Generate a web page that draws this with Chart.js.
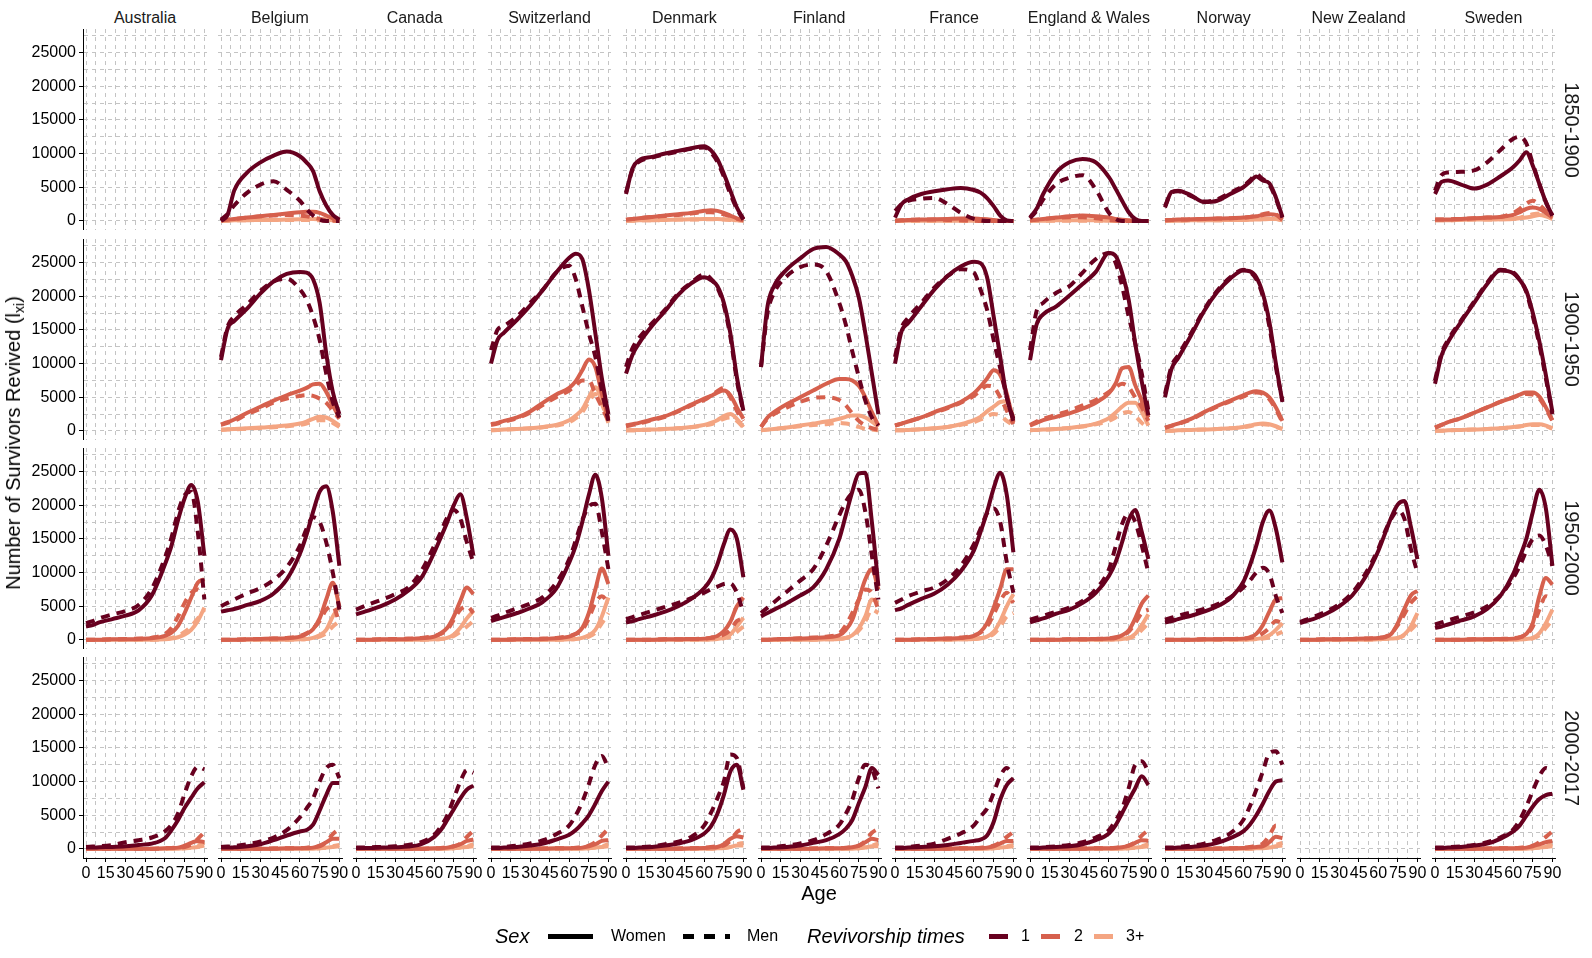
<!DOCTYPE html>
<html><head><meta charset="utf-8">
<script src="https://cdn.jsdelivr.net/npm/chart.js@4.4.1/dist/chart.umd.min.js"></script>
<style>
html,body{margin:0;padding:0;background:#fff;}
#root{position:relative;width:1592px;height:958px;overflow:hidden;font-family:"Liberation Sans",Arial,sans-serif;color:#000;}
.pan{position:absolute;}
.pan canvas{display:block;}
.txt{position:absolute;white-space:nowrap;line-height:1;}
.strip{font-size:16px;color:#1a1a1a;transform:translate(-50%,-50%);}
.rowlab{font-size:20px;color:#1a1a1a;transform:translate(-50%,-50%) rotate(90deg);}
.key{position:absolute;height:5px;}
</style></head>
<body><div id="root"></div>
<script>
// ---------------- data ----------------
const AGES = [0,5,10,20,30,40,50,60,65,70,75,80,85,90];
const COUNTRIES = ['Australia','Belgium','Canada','Switzerland','Denmark','Finland','France','England & Wales','Norway','New Zealand','Sweden'];
const PERIODS = ['1850-1900','1900-1950','1950-2000','2000-2017'];
const Y_TICKS = [0,2500,5000,7500,10000,12500,15000,17500,20000,22500,25000,27500];
const Y_LABELS = [0,5000,10000,15000,20000,25000];
const X_TICKS = [0,7.5,15,22.5,30,37.5,45,52.5,60,67.5,75,82.5,90];
const X_LABELS = [0,15,30,45,60,75,90];
const SEX_LABELS = ['Women','Men'];
const TIMES_LABELS = ['1','2','3+'];
// each panel: [W1, W2, W3, M1, M2, M3] over AGES
const BE_1850 = [
 [0,900,4500,7200,8700,9700,10300,9600,8700,7400,4400,2300,900,200],
 [100,200,300,500,700,900,1100,1300,1350,1350,1200,800,400,100],
 [50,50,100,100,150,150,200,250,300,300,250,200,100,50],
 [200,1000,2300,4200,5400,5900,4600,3000,1800,800,200,0,0,0],
 [100,200,300,500,700,800,900,800,700,500,300,150,50,0],
 [50,50,100,100,150,150,150,150,150,100,100,50,0,0]];
const DK_1850 = [
 [4000,7800,9000,9500,10000,10400,10800,11100,10500,9200,7000,4500,2000,300],
 [200,300,400,600,800,1000,1200,1500,1600,1500,1200,800,400,100],
 [50,50,100,100,150,200,250,300,300,300,250,200,100,50],
 [4200,7600,8800,9400,9900,10300,10700,10900,10200,8800,6600,4000,1800,200],
 [200,300,400,600,750,900,1100,1300,1300,1200,1000,700,300,100],
 [50,50,100,100,150,200,200,250,250,250,200,150,100,50]];
const FR_1850 = [
 [500,2500,3200,4000,4400,4700,4900,4600,4200,3400,2200,800,100,0],
 [50,100,150,200,250,300,350,350,300,250,150,50,0,0],
 [0,0,50,50,50,50,50,50,50,50,0,0,0,0],
 [1500,2500,3000,3300,3400,2500,1200,300,100,0,0,0,0,0],
 [50,100,150,200,200,150,100,50,0,0,0,0,0,0],
 [0,0,0,0,0,0,0,0,0,0,0,0,0,0]];
const EW_1850 = [
 [500,1800,4000,7200,8700,9200,8700,6500,4800,3000,1300,300,0,0],
 [100,200,300,500,700,800,700,500,300,200,100,0,0,0],
 [0,50,50,100,100,100,100,50,50,0,0,0,0,0],
 [400,1500,3200,5500,6400,6800,4700,1200,300,0,0,0,0,0],
 [100,200,300,450,550,550,400,150,50,0,0,0,0,0],
 [0,50,50,50,50,50,50,0,0,0,0,0,0,0]];
const NO_1850 = [
 [2000,4300,4500,3800,2800,3000,4000,5000,5800,6600,6000,5600,3500,600],
 [100,150,200,250,300,350,400,500,600,700,900,1000,900,200],
 [50,50,50,100,100,100,150,150,200,200,250,300,300,100],
 [2200,4200,4400,3700,2900,3200,4200,5200,6000,6900,6200,5400,3300,500],
 [100,150,200,250,300,350,400,500,600,800,1000,1200,1000,200],
 [50,50,50,100,100,100,150,150,200,250,300,350,300,100]];
const SE_1850 = [
 [4000,5800,6000,5400,4800,5400,6600,8000,9000,10200,8200,5500,2800,800],
 [200,200,200,300,400,500,600,900,1300,1800,2000,1800,1200,500],
 [100,100,100,150,200,200,250,300,400,500,700,900,700,300],
 [4500,6800,7200,7300,7500,8700,10500,12200,12500,11500,8500,5500,2800,800],
 [200,200,250,300,400,500,600,1200,1800,2600,3000,2400,1500,600],
 [100,100,100,150,200,200,250,350,500,700,1000,1100,800,300]];
const BE_1900 = [
 [10500,15200,16300,18200,20400,22200,23300,23600,23500,22500,19000,11500,5800,2500],
 [1000,1300,1700,2700,3600,4500,5300,6000,6400,6900,7000,5800,3800,2000],
 [200,250,300,400,500,650,800,1100,1400,1800,2100,2000,1500,800],
 [11000,15500,17000,18800,20800,22200,22600,21000,19500,17000,13500,8500,4300,2000],
 [900,1200,1500,2500,3300,4200,4800,5200,5300,5200,4800,4200,3000,1800],
 [150,200,250,350,450,550,700,900,1100,1400,1600,1600,1200,600]];
const CH_1900 = [
 [10000,13500,14600,16500,18600,21000,23500,25700,26300,25500,21000,14500,7800,2500],
 [1000,1200,1500,2000,2900,4200,5400,6400,7400,9000,10600,9500,5500,1800],
 [100,150,200,300,400,600,900,1600,2300,3200,5000,6500,4500,1300],
 [12000,15000,15600,17000,19000,21000,23500,24500,22500,18500,14500,11000,6000,1500],
 [900,1100,1400,1900,2700,3900,5000,6000,6800,7500,7500,5500,3500,1500],
 [100,150,200,300,400,550,800,1300,1900,2800,4300,5500,4000,1200]];
const DK_1900 = [
 [8500,11300,13000,15600,17800,20200,21900,22800,22400,21500,19000,14500,8000,3000],
 [800,1000,1200,1700,2200,3000,3900,4800,5200,5700,6000,5300,3500,1800],
 [100,100,150,200,300,400,600,900,1200,1600,2200,2500,1800,600],
 [9500,12300,13800,16000,18000,20400,22000,23200,22600,21300,18600,14000,7500,2800],
 [700,900,1100,1600,2100,2900,3800,4600,5200,5900,6400,5000,3000,1500],
 [100,100,150,200,300,400,550,800,1000,1400,1800,2000,1500,500]];
const FI_1900 = [
 [9500,18500,21500,24000,25600,27000,27300,26200,25200,23000,19800,14500,8500,2500],
 [600,2000,2800,4000,5000,6000,7000,7700,7700,7500,6700,5000,2800,800],
 [100,200,300,500,800,1100,1400,1800,2100,2300,2300,2000,1400,600],
 [9500,17500,20500,23000,24300,24700,23700,19000,15800,11800,8000,4500,2000,800],
 [600,1800,2500,3500,4300,4900,5000,4600,3800,2600,1500,800,400,200],
 [100,200,300,500,700,900,1000,1200,1100,900,600,300,200,100]];
const FR_1900 = [
 [10000,14800,16000,18500,21000,23000,24400,25100,24900,22800,17000,11000,5000,1500],
 [800,1100,1400,2000,2800,3500,4300,5600,6600,7800,9000,8300,5500,1300],
 [100,100,150,250,400,600,1000,1600,2100,2900,3600,4300,4400,2000],
 [11000,15300,16800,19000,21300,23000,24000,23500,21000,18000,13500,9300,5000,1800],
 [800,1100,1400,2000,2700,3400,4200,5200,6000,6700,6500,5000,3000,1000],
 [100,100,150,250,400,600,900,1300,1700,2200,2500,2300,1500,800]];
const EW_1900 = [
 [10500,15800,17300,18500,20100,21800,23600,26400,26000,23500,19500,13000,7300,2300],
 [800,1200,1600,2100,2600,3300,4200,5600,7000,9300,9500,6800,4500,2000],
 [100,150,200,300,450,700,1100,1900,2700,3600,4200,4200,2800,800],
 [12000,17800,19000,20500,21500,23500,25500,26400,25000,21500,17000,13000,8500,3000],
 [900,1400,1800,2400,3000,3800,4600,5800,6500,7000,6500,5000,3500,1500],
 [100,150,200,300,450,650,1000,1500,2000,2600,2800,2200,1200,400]];
const NO_1900 = [
 [5000,9200,10800,14200,17800,20600,22600,23800,23700,22800,20400,16200,10000,4300],
 [500,800,1100,1800,2800,3700,4500,5300,5700,5900,5700,5000,3500,1500],
 [50,50,100,150,200,300,400,600,800,1000,1100,1000,700,300],
 [5500,9600,11200,14500,18000,20800,22800,23900,23600,22500,20000,15500,9500,4500],
 [450,750,1050,1700,2700,3600,4400,5100,5500,5700,5500,4700,3200,1300],
 [50,50,100,150,200,300,400,550,700,900,1000,900,600,300]];
const SE_1900 = [
 [7000,11200,13200,16200,19000,21800,23800,23400,22400,20800,17500,13300,8300,2800],
 [500,900,1300,1900,2700,3500,4300,5000,5400,5700,5700,5100,3500,1600],
 [50,50,100,150,200,300,400,600,700,900,1000,1000,800,400],
 [7500,11500,13500,16400,19200,22000,23900,23500,22400,20600,17000,12800,7800,2500],
 [500,900,1300,1900,2700,3500,4300,5000,5300,5500,5400,4800,3300,1500],
 [50,50,100,150,200,300,400,550,650,800,900,900,700,350]];
const AU_1950 = [
 [2000,2200,2600,3100,3600,4400,6600,11200,14000,17800,21000,23000,20500,12500],
 [50,50,50,100,100,150,250,600,1100,2100,4000,6300,8500,9000],
 [0,0,0,50,50,50,50,100,200,400,800,1500,2800,4800],
 [2500,2800,3200,3800,4300,5200,7600,12200,15200,19000,21500,22000,16000,6000],
 [50,50,50,100,150,200,350,900,1800,3500,5500,7000,7500,6500],
 [0,0,0,50,50,50,50,150,300,600,1200,2000,3200,4500]];
const BE_1950 = [
 [4200,4400,4600,5200,5800,6900,9000,12800,15600,19000,22000,22800,19000,11000],
 [50,50,50,100,150,200,250,500,900,1600,3200,6000,8500,5000],
 [0,0,0,50,50,50,50,100,150,300,700,1500,3500,5000],
 [5000,5500,6000,6900,7700,8900,10800,14000,16500,18200,17500,14500,10000,4500],
 [50,50,50,100,150,200,300,600,1000,1700,2800,4500,5000,2500],
 [0,0,0,50,50,50,50,100,150,250,500,1000,2000,2800]];
const CA_1950 = [
 [3800,4100,4400,5100,6000,7300,9200,13000,15200,17500,20000,21600,18000,12500],
 [50,50,50,100,100,150,250,500,1000,1800,3500,5800,7800,6800],
 [0,0,0,50,50,50,50,100,150,300,800,1800,3200,4300],
 [4500,4900,5300,6000,6800,7800,10200,14000,16000,18200,19300,18000,14500,11500],
 [50,50,50,100,150,200,300,600,900,1500,3000,4500,5000,4000],
 [0,0,0,50,50,50,50,100,150,250,600,1200,2000,2800]];
const CH_1950 = [
 [2800,3100,3400,4000,4700,5700,7600,11500,14000,17500,21500,24500,21000,12500],
 [50,50,50,100,100,150,250,500,900,1800,4000,7500,10600,8300],
 [0,0,0,50,50,50,50,100,150,300,700,1500,3500,6300],
 [3300,3600,4000,4700,5400,6400,8500,12000,14800,17800,19800,20200,16000,10500],
 [50,50,50,100,150,200,300,600,900,1500,3200,5500,6500,5500],
 [0,0,0,50,50,50,50,100,150,250,500,1100,2500,4000]];
const DK_1950 = [
 [2600,2800,3100,3600,4200,5000,6100,7700,9000,11200,14200,16400,15000,9300],
 [50,50,50,50,100,100,150,200,350,600,1300,2700,5000,6300],
 [0,0,0,0,50,50,50,50,100,150,300,800,2000,3300],
 [3100,3400,3700,4300,4900,5500,6200,7000,7500,7900,8300,8400,7000,4000],
 [50,50,50,50,100,100,150,200,300,450,800,1500,2800,3200],
 [0,0,0,0,50,50,50,50,100,150,250,500,1200,2000]];
const FI_1950 = [
 [3500,4000,4500,5500,6600,7800,10500,15000,18500,22000,24700,24800,17500,8000],
 [50,50,100,150,200,300,400,700,1500,3000,6000,9000,10500,7500],
 [0,0,0,50,50,50,100,150,300,700,1700,3500,6000,5500],
 [4000,4800,5600,7200,8800,10500,14000,18500,20500,21800,22300,19000,12500,6000],
 [50,50,100,150,250,350,500,1000,2200,4000,6000,7500,7000,4500],
 [0,0,0,50,50,50,100,150,300,600,1400,2800,4500,4000]];
const FR_1950 = [
 [4400,4700,5200,6100,6900,8200,10200,13300,16000,19000,22500,24800,21500,13000],
 [50,50,50,100,150,200,300,600,1200,2500,4800,7600,10500,10500],
 [0,0,0,50,50,50,100,150,250,500,1200,2800,5000,6800],
 [5500,6000,6500,7200,7800,9000,11000,14200,16500,18800,19500,17500,11500,7000],
 [50,50,50,100,150,200,350,700,1100,2000,3800,5800,7000,5500],
 [0,0,0,50,50,50,100,150,250,450,900,2000,3500,4000]];
const EW_1950 = [
 [2600,2900,3200,3900,4500,5500,7000,9500,11500,14500,17800,19300,16000,12000],
 [50,50,50,50,100,100,150,200,300,700,1400,3200,5400,6600],
 [0,0,0,0,50,50,50,50,100,150,300,900,2200,3800],
 [3000,3300,3600,4200,4800,5800,7500,10500,13800,17200,18800,17500,14000,10000],
 [50,50,50,50,100,100,150,250,400,700,1200,2500,4000,4500],
 [0,0,0,0,50,50,50,50,100,150,250,600,1500,2500]];
const NO_1950 = [
 [2600,2800,3100,3600,4200,5000,6200,8600,11000,14000,17500,19200,16500,11500],
 [50,50,50,50,100,100,150,200,400,900,2200,4200,6000,6200],
 [0,0,0,0,50,50,50,50,100,150,300,700,1500,2500],
 [3000,3300,3600,4100,4600,5300,6300,7800,8800,10000,10700,9800,6500,4000],
 [50,50,50,50,100,100,150,200,300,500,1000,1800,2800,2500],
 [0,0,0,0,50,50,50,50,100,100,200,400,800,1200]];
const NZ_1950 = [
 [2500,2800,3100,3900,5000,6600,9300,13200,15700,18200,20100,20600,16800,12000],
 [50,50,50,100,100,150,200,300,400,900,2500,4600,6600,7300],
 [0,0,0,50,50,50,50,100,150,200,300,800,2000,4000],
 [2700,3000,3400,4200,5300,7000,9800,13500,16000,18000,19200,18000,13500,10000],
 [50,50,50,100,100,150,200,300,450,1000,2200,3800,5500,6500],
 [0,0,0,50,50,50,50,100,150,200,300,700,1500,2500]];
const SE_1950 = [
 [1800,2000,2300,2900,3500,4600,6500,9800,12300,15000,19000,22300,19500,11000],
 [50,50,50,50,100,100,150,200,400,900,2500,6500,9200,8200],
 [0,0,0,0,50,50,50,50,100,150,300,1000,2500,4500],
 [2300,2600,2900,3500,4100,5000,6600,9200,11000,13200,15000,15500,14000,11000],
 [50,50,50,50,100,100,150,250,400,800,2000,4500,6500,6000],
 [0,0,0,0,50,50,50,50,100,150,250,700,1800,3000]];
const AU_2000 = [
 [200,200,250,300,400,600,800,1600,2800,4300,6100,7600,9000,9900],
 [50,50,50,50,50,50,50,100,150,200,500,900,1200,1000],
 [0,0,0,0,0,0,0,50,50,50,100,200,300,500],
 [300,350,400,600,1000,1300,1700,2600,3600,5300,8200,10800,12200,11800],
 [50,50,50,50,50,50,50,100,150,200,300,700,1500,2500],
 [0,0,0,0,0,0,0,50,50,50,100,200,500,1000]];
const BE_2000 = [
 [200,200,250,400,700,1300,2000,2600,2800,3600,5700,8000,9800,9800],
 [50,50,50,50,50,50,100,100,150,200,500,1000,1500,1500],
 [0,0,0,0,0,0,50,50,50,50,100,200,300,400],
 [300,350,450,700,1100,1700,2800,4700,6000,7500,10000,12000,12500,10500],
 [50,50,50,50,50,100,100,150,200,300,400,1000,2200,3000],
 [0,0,0,0,0,0,50,50,50,50,100,200,400,600]];
const CA_2000 = [
 [150,150,150,200,250,350,700,1800,2800,4300,5900,7500,8800,9400],
 [50,50,50,50,50,50,50,100,100,200,400,700,1200,1400],
 [0,0,0,0,0,0,0,50,50,50,100,200,300,400],
 [200,200,250,300,400,600,1000,2100,3300,5000,7500,10000,11700,11300],
 [50,50,50,50,50,50,50,100,150,250,400,800,1800,2700],
 [0,0,0,0,0,0,0,50,50,50,100,200,400,700]];
const CH_2000 = [
 [150,150,200,300,500,800,1400,2100,2800,3800,5000,6700,8600,10000],
 [50,50,50,50,50,50,100,100,150,200,400,700,1200,1300],
 [0,0,0,0,0,0,50,50,50,50,100,200,300,400],
 [200,200,300,500,800,1300,2200,3500,5000,7000,9600,12500,13800,12000],
 [50,50,50,50,50,100,100,150,200,300,500,1000,2000,3000],
 [0,0,0,0,0,0,50,50,50,50,100,200,400,700]];
const DK_2000 = [
 [150,150,200,300,500,800,1300,2300,3300,5200,8000,11500,12500,8800],
 [50,50,50,50,50,50,100,150,200,300,700,1500,1900,1700],
 [0,0,0,0,0,0,50,50,50,100,150,300,500,500],
 [200,200,250,400,700,1100,1800,3500,5300,7500,10000,14000,13500,9000],
 [50,50,50,50,50,100,100,200,300,400,500,1200,2500,3000],
 [0,0,0,0,0,0,50,50,50,100,150,300,700,900]];
const FI_2000 = [
 [150,150,200,300,500,900,1300,2200,3000,4300,6800,9200,12000,11000],
 [50,50,50,50,50,50,100,100,150,250,500,1000,1500,1300],
 [0,0,0,0,0,0,50,50,50,50,100,200,400,400],
 [200,200,300,500,800,1300,2200,3600,5200,7300,10500,12500,11800,9000],
 [50,50,50,50,50,100,100,150,200,300,500,1200,2400,3000],
 [0,0,0,0,0,0,50,50,50,50,100,300,500,800]];
const FR_2000 = [
 [150,150,200,300,400,600,900,1200,1400,2000,4000,7300,9500,10500],
 [50,50,50,50,50,50,100,100,150,200,400,800,1200,1200],
 [0,0,0,0,0,0,50,50,50,50,100,200,300,400],
 [200,200,300,500,800,1500,2300,3500,4800,6000,8300,10800,12000,11000],
 [50,50,50,50,50,100,100,150,200,300,500,1000,1800,2500],
 [0,0,0,0,0,0,50,50,50,50,100,200,400,600]];
const EW_2000 = [
 [150,150,200,300,400,700,1300,2300,3500,5300,7200,9000,10800,9500],
 [50,50,50,50,50,50,100,100,150,250,500,900,1300,1200],
 [0,0,0,0,0,0,50,50,50,50,100,200,300,400],
 [200,200,250,400,600,1000,1700,2800,4200,6000,9000,12500,13000,11500],
 [50,50,50,50,50,100,100,150,200,300,500,1000,2000,2800],
 [0,0,0,0,0,0,50,50,50,50,100,200,400,700]];
const NO_2000 = [
 [150,150,200,300,500,900,1600,2600,3600,5000,6700,8600,10000,10200],
 [50,50,50,50,50,50,100,150,200,300,400,1000,1800,1600],
 [0,0,0,0,0,0,50,50,50,100,100,200,400,500],
 [200,200,300,500,800,1400,2300,4300,6300,8800,11500,14200,14500,12500],
 [50,50,50,50,50,100,100,200,300,500,800,2000,3500,3500],
 [0,0,0,0,0,0,50,50,50,100,150,300,600,900]];
const SE_2000 = [
 [150,150,200,300,500,800,1500,2600,3500,4900,6300,7400,8000,8200],
 [50,50,50,50,50,50,100,100,150,200,400,700,1000,1200],
 [0,0,0,0,0,0,50,50,50,50,100,200,300,400],
 [200,200,250,400,600,1000,1700,2900,4300,6300,8600,10800,12000,11500],
 [50,50,50,50,50,100,100,150,200,300,500,1000,1800,2600],
 [0,0,0,0,0,0,50,50,50,50,100,200,400,700]];

// [country index, period index, panel data]
const ENTRIES = [
 [1,0,BE_1850],[4,0,DK_1850],[6,0,FR_1850],[7,0,EW_1850],[8,0,NO_1850],[10,0,SE_1850],
 [1,1,BE_1900],[3,1,CH_1900],[4,1,DK_1900],[5,1,FI_1900],[6,1,FR_1900],[7,1,EW_1900],[8,1,NO_1900],[10,1,SE_1900],
 [0,2,AU_1950],[1,2,BE_1950],[2,2,CA_1950],[3,2,CH_1950],[4,2,DK_1950],[5,2,FI_1950],[6,2,FR_1950],[7,2,EW_1950],[8,2,NO_1950],[9,2,NZ_1950],[10,2,SE_1950],
 [0,3,AU_2000],[1,3,BE_2000],[2,3,CA_2000],[3,3,CH_2000],[4,3,DK_2000],[5,3,FI_2000],[6,3,FR_2000],[7,3,EW_2000],[8,3,NO_2000],[10,3,SE_2000]
];

// ---------------- styling / layout ----------------
const COLORS = ['#67001F','#D6604D','#F4A582'];
const GRID = '#c4c4c4';
const FONT = 'Liberation Sans';
const X_MIN = -2.3, X_MAX = 92.0;
const Y_MIN = -1340, Y_MAX = 28480;
const PX0 = 83.3, PITCH_X = 134.84, PW = 123.4;
const PY0 = 29.3, PITCH_Y = 209.3, PH = 201;
const PAD = 7;

Chart.defaults.font.family = FONT;
Chart.defaults.color = '#000';

const root = document.getElementById('root');
function addText(cls, txt, x, y, extra) {
  const d = document.createElement('div');
  d.className = 'txt ' + cls;
  d.textContent = txt;
  d.style.left = x + 'px'; d.style.top = y + 'px';
  if (extra) Object.assign(d.style, extra);
  root.appendChild(d);
  return d;
}

function makePanel(r, c, panel) {
  const L = Math.round(PX0 + c * PITCH_X);
  const R = Math.round(PX0 + c * PITCH_X + PW);
  const T = Math.round(PY0 + r * PITCH_Y);
  const B = Math.round(PY0 + r * PITCH_Y + PH);
  const first = c === 0, bottom = r === 3;
  const divL = first ? 0 : L - PAD;
  const xH = bottom ? 32 : 0;
  const d = document.createElement('div');
  d.className = 'pan';
  d.style.left = divL + 'px';
  d.style.top = T + 'px';
  d.style.width = (R + PAD - divL) + 'px';
  d.style.height = (B - T + xH) + 'px';
  const cv = document.createElement('canvas');
  d.appendChild(cv);
  root.appendChild(d);

  const datasets = [];
  if (panel) {
    // draw order: revivorship 1 on top
    const order = [[0,0],[3,0],[1,1],[4,1],[2,2],[5,2]];
    order.forEach(([idx, col]) => {
      const men = idx >= 3;
      datasets.push({
        label: SEX_LABELS[men ? 1 : 0] + ' ' + TIMES_LABELS[col],
        data: AGES.map((a, i) => ({x: a, y: panel[idx][i]})),
        borderColor: COLORS[col],
        backgroundColor: COLORS[col],
        borderWidth: 4,
        borderDash: men ? [9, 7] : [],
        borderCapStyle: 'butt',
        borderJoinStyle: 'round',
        pointRadius: 0,
        cubicInterpolationMode: 'monotone',
        fill: false
      });
    });
  }

  new Chart(cv, {
    type: 'line',
    data: {datasets},
    options: {
      responsive: true, maintainAspectRatio: false, animation: false,
      devicePixelRatio: 1, events: [],
      layout: {padding: {left: first ? 0 : PAD, right: PAD, top: 0, bottom: 0}},
      plugins: {legend: {display: false}, tooltip: {enabled: false}, title: {display: false}},
      scales: {
        x: {
          type: 'linear', min: X_MIN, max: X_MAX, bounds: 'data', position: 'bottom',
          afterBuildTicks: s => { s.ticks = X_TICKS.map(v => ({value: v})); },
          afterFit: s => { s.height = xH; s.paddingLeft = 0; s.paddingRight = 0; },
          ticks: {display: bottom, autoSkip: false, maxRotation: 0, minRotation: 0, padding: 2,
                  color: '#000', font: {family: FONT, size: 16},
                  callback: v => X_LABELS.includes(v) ? String(v) : ''},
          grid: {display: true, color: GRID, lineWidth: 1, drawTicks: bottom, tickLength: 4,
                 tickWidth: 1, tickBorderDash: [],
                 tickColor: ctx => (ctx.tick && X_LABELS.includes(ctx.tick.value)) ? '#000' : 'rgba(0,0,0,0)'},
          border: {display: bottom, color: '#000', width: 1, dash: [4, 4]}
        },
        y: {
          type: 'linear', min: Y_MIN, max: Y_MAX, bounds: 'data', position: 'left',
          afterBuildTicks: s => { s.ticks = Y_TICKS.map(v => ({value: v})); },
          afterFit: s => { s.width = first ? L : 0; s.paddingTop = 0; s.paddingBottom = 0; },
          ticks: {display: first, autoSkip: false, padding: 3, color: '#000', font: {family: FONT, size: 16},
                  callback: v => Y_LABELS.includes(v) ? String(v) : ''},
          grid: {display: true, color: GRID, lineWidth: 1, drawTicks: first, tickLength: 4,
                 tickWidth: 1, tickBorderDash: [],
                 tickColor: ctx => (ctx.tick && Y_LABELS.includes(ctx.tick.value)) ? '#000' : 'rgba(0,0,0,0)'},
          border: {display: first, color: '#000', width: 1, dash: [4, 4]}
        }
      }
    }
  });
}

for (let r = 0; r < PERIODS.length; r++) {
  for (let c = 0; c < COUNTRIES.length; c++) {
    const e = ENTRIES.find(en => en[0] === c && en[1] === r);
    makePanel(r, c, e ? e[2] : null);
  }
}

// strip labels
COUNTRIES.forEach((name, c) => addText('strip', name, PX0 + c * PITCH_X + PW / 2, 17.5));
PERIODS.forEach((p, r) => addText('rowlab', p, 1572, PY0 + r * PITCH_Y + PH / 2));

// axis titles
addText('', 'Age', 819, 893, {fontSize: '20px', transform: 'translate(-50%,-50%)'});
const yt = addText('', '', 13, 443, {fontSize: '20px', transform: 'translate(-50%,-50%) rotate(-90deg)'});
yt.innerHTML = 'Number of Survivors Revived (l<span style="font-size:14px;position:relative;top:4px">x</span><span style="font-size:14px;position:relative;top:4px">i</span>)';

// legend
const LY = 936;
addText('', 'Sex', 495, LY, {fontSize: '20px', fontStyle: 'italic', transform: 'translateY(-50%)'});
const k1 = document.createElement('div'); k1.className = 'key';
Object.assign(k1.style, {left: '548px', top: (LY - 2.5) + 'px', width: '45px', background: '#000'});
root.appendChild(k1);
addText('', SEX_LABELS[0], 611, LY, {fontSize: '16px', transform: 'translateY(-50%)'});
const k2 = document.createElement('div'); k2.className = 'key';
Object.assign(k2.style, {left: '683px', top: (LY - 2.5) + 'px', width: '47px',
  background: 'repeating-linear-gradient(90deg,#000 0,#000 11px,transparent 11px,transparent 21px)'});
root.appendChild(k2);
addText('', SEX_LABELS[1], 747, LY, {fontSize: '16px', transform: 'translateY(-50%)'});
addText('', 'Revivorship times', 807, LY, {fontSize: '20px', fontStyle: 'italic', transform: 'translateY(-50%)'});
const keyX = [[989, 1021], [1041, 1074], [1094, 1126]];
keyX.forEach(([kx, tx], i) => {
  const k = document.createElement('div'); k.className = 'key';
  Object.assign(k.style, {left: kx + 'px', top: (LY - 2.5) + 'px', width: '19px', background: COLORS[i]});
  root.appendChild(k);
  addText('', TIMES_LABELS[i], tx, LY, {fontSize: '16px', transform: 'translateY(-50%)'});
});
</script>
</body></html>
